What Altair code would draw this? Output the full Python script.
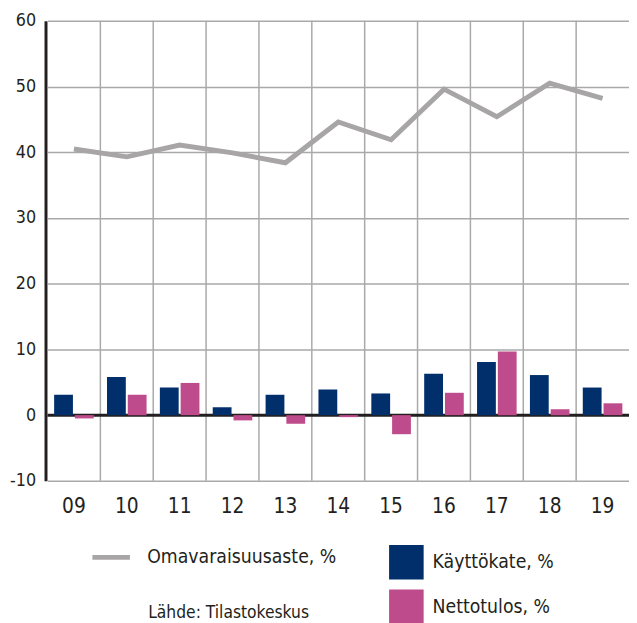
import altair as alt
import pandas as pd

years = ["09", "10", "11", "12", "13", "14", "15", "16", "17", "18", "19"]
kayttokate = [3.1, 5.8, 4.2, 1.2, 3.1, 3.9, 3.3, 6.3, 8.1, 6.1, 4.2]
nettotulos = [-0.5, 3.1, 4.9, -0.8, -1.3, -0.3, -2.9, 3.4, 9.7, 0.9, 1.8]
omavaraisuus = [40.5, 39.3, 41.1, 39.9, 38.4, 44.6, 41.9, 49.6, 45.4, 50.5, 48.2]

bar_names = ["Käyttökate, %", "Nettotulos, %"]
line_name = "Omavaraisuusaste, %"
source_text = ["Lähde: Tilastokeskus"]

FONT = "DejaVu Sans Condensed, DejaVu Sans, sans-serif"
DARK = "#231F20"
GRID = "#A9A9A9"

bars_df = pd.DataFrame(
    [{"year": y, "series": bar_names[0], "value": v} for y, v in zip(years, kayttokate)]
    + [{"year": y, "series": bar_names[1], "value": v} for y, v in zip(years, nettotulos)]
)
line_df = pd.DataFrame({"year": years, "value": omavaraisuus, "name": line_name})
grid_df = pd.DataFrame({"year": years[1:]})
source_df = pd.DataFrame({"text": source_text})

x_scale = alt.Scale(domain=years, paddingInner=0, paddingOuter=0)
y_scale = alt.Scale(domain=[-10, 60], nice=False, zero=False)

x_axis = alt.Axis(title=None, domain=False, ticks=False, tickSize=0, grid=False,
                  labelFontSize=21, labelFont=FONT, labelColor=DARK, labelPadding=15,
                  labelAngle=0)
y_axis = alt.Axis(title=None, values=list(range(-10, 61, 10)), grid=True, gridColor=GRID,
                  gridWidth=1.5, domain=True, domainColor=DARK, domainWidth=3, offset=2,
                  ticks=False, tickSize=0, labelFontSize=18, labelFont=FONT,
                  labelColor=DARK, labelPadding=10, labelExpr="'' + datum.value")

vgrid = alt.Chart(grid_df).mark_rule(color=GRID, strokeWidth=1.5).encode(
    x=alt.X("year:N", bandPosition=0, scale=x_scale, axis=x_axis, sort=None)
)

zero = alt.Chart(pd.DataFrame({"v": [0]})).mark_rule(color=DARK, strokeWidth=3).encode(
    y=alt.Y("v:Q", scale=y_scale, axis=y_axis)
)

bars = alt.Chart(bars_df).mark_bar().encode(
    x=alt.X("year:N", scale=x_scale, axis=x_axis, sort=None),
    xOffset=alt.XOffset("series:N", scale=alt.Scale(domain=bar_names, paddingInner=0.095,
                                                    paddingOuter=0.32)),
    y=alt.Y("value:Q", scale=y_scale, axis=y_axis),
    color=alt.Color("series:N",
                    scale=alt.Scale(domain=bar_names, range=["#002F6C", "#BE4B8B"]),
                    legend=alt.Legend(title=None, orient="none", legendX=346, legendY=531,
                                      symbolType="square", symbolSize=1225,
                                      symbolStrokeWidth=0, labelFontSize=19.5,
                                      labelFont=FONT, labelColor=DARK, labelOffset=9,
                                      rowPadding=10, padding=0, labelLimit=300)),
)

line = alt.Chart(line_df).mark_line(strokeWidth=5, strokeCap="butt", strokeJoin="miter").encode(
    x=alt.X("year:N", scale=x_scale, axis=x_axis, sort=None),
    y=alt.Y("value:Q", scale=y_scale, axis=y_axis),
    stroke=alt.Stroke("name:N", scale=alt.Scale(domain=[line_name], range=["#A7A5A5"]),
                      legend=alt.Legend(title=None, orient="none", legendX=43, legendY=522,
                                        symbolType="stroke", symbolSize=1444,
                                        symbolStrokeWidth=5, labelFontSize=19.5,
                                        labelFont=FONT, labelColor=DARK, labelOffset=15,
                                        padding=0, labelLimit=300)),
)

source = alt.Chart(source_df).mark_text(
    align="left", baseline="alphabetic", fontSize=17.5, font=FONT, color=DARK
).encode(text="text:N", x=alt.value(102), y=alt.value(605))

chart = alt.layer(vgrid, zero, bars, line, source).properties(
    width=589,
    height=466,
    padding={"left": 40, "top": 9, "right": 0, "bottom": 140},
    autosize=alt.AutoSizeParams(type="none"),
).configure_view(stroke=None).configure_legend(symbolOpacity=1)

chart.save("out.html", embed_options={"renderer": "svg", "actions": False})
